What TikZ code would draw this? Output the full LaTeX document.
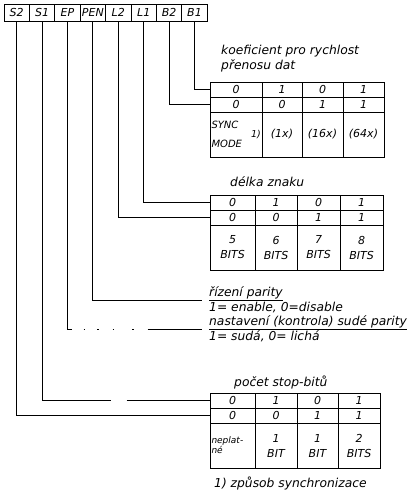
\documentclass[tikz,border=0pt]{standalone}
\usepackage{fontspec}
\setmainfont{DejaVu Sans}
\usetikzlibrary{positioning}

\begin{document}
\begin{tikzpicture}[
    x=1pt, y=-1pt,
    every node/.style={font=\itshape\fontsize{11}{12}\selectfont},
    regbox/.style={draw,line width=1pt,outer sep=0pt,inner sep=0pt,minimum width=25.4pt,minimum height=17pt},
    cell/.style={draw,line width=1pt,outer sep=0pt,inner sep=0pt,minimum height=15pt,anchor=north west},
    bigcell/.style={cell,minimum height=45pt,align=center},
    wire/.style={line width=1pt},
    note/.style={anchor=base west,inner sep=0pt,font=\itshape\fontsize{12.3}{15}\selectfont},
  ]
  \useasboundingbox (0,0) rectangle (411,496);

  % control register
  \node[regbox, anchor=north west] (s2) at (4,4) {S2};
  \node[regbox, right=0pt of s2] (s1) {S1};
  \node[regbox, right=0pt of s1] (ep) {EP};
  \node[regbox, right=0pt of ep] (pen) {PEN};
  \node[regbox, right=0pt of pen] (l2) {L2};
  \node[regbox, right=0pt of l2] (l1) {L1};
  \node[regbox, right=0pt of l1] (b2) {B2};
  \node[regbox, right=0pt of b2] (b1) {B1};

  % baud rate factor
  \node[note, anchor=north west, align=left] (koef) at (221,45) {koeficient pro rychlost\\přenosu dat};
  \foreach \x/\w/\a/\b [count=\i] in {210/52/0/0, 262/40/1/0, 302/41/0/1, 343/41/1/1} {
    \node[cell, minimum width=\w pt] (ka\i) at (\x,82) {\a};
    \node[cell, minimum width=\w pt] (kb\i) at (\x,97) {\b};
  }
  \node[bigcell, minimum width=52pt, text width=49pt, inner xsep=1.5pt, align=left,
    font=\itshape\fontsize{10}{11}\selectfont,
    label={[anchor=east, inner sep=1pt, font=\itshape\fontsize{9.5}{10}\selectfont]east:1)}] (kc1) at (210,112) {SYNC\\[8pt]MODE};
  \node[bigcell, minimum width=40pt] (kc2) at (262,112) {(1x)};
  \node[bigcell, minimum width=41pt] (kc3) at (302,112) {(16x)};
  \node[bigcell, minimum width=41pt] (kc4) at (343,112) {(64x)};

  % character length
  \node[note] (len) at (230,186) {délka znaku};
  \foreach \x/\w/\a/\b/\c [count=\i] in {210/45/0/0/5, 255/42/1/0/6, 297/43/0/1/7, 340/43/1/1/8} {
    \node[cell, minimum width=\w pt] (da\i) at (\x,195) {\a};
    \node[cell, minimum width=\w pt] (db\i) at (\x,210) {\b};
    \node[bigcell, minimum width=\w pt] (dc\i) at (\x,225) {\c\\[3pt]BITS};
  }

  % parity
  \node[note, inner xsep=7pt] (parity) at (202,296) {\underline{řízení parity}};
  \node[note] (parityval) at (209,311) {1= enable, 0=disable};
  \node[note, inner xsep=7pt] (even) at (202,325) {\underline{nastavení (kontrola) sudé parity}};
  \node[note] (evenval) at (209,340) {1= sudá, 0= lichá};

  % stop bits
  \node[note] (stop) at (234,386) {počet stop-bitů};
  \foreach \x/\w/\a/\b [count=\i] in {210/45/0/0, 255/42/1/0, 297/41/0/1, 338/42/1/1} {
    \node[cell, minimum width=\w pt] (sa\i) at (\x,393) {\a};
    \node[cell, minimum width=\w pt] (sb\i) at (\x,408) {\b};
  }
  \node[bigcell, minimum width=45pt, text width=42pt, inner xsep=1.5pt, align=left,
    font=\itshape\fontsize{9}{10}\selectfont] (sc1) at (210,423) {neplat-\\né};
  \node[bigcell, minimum width=42pt] (sc2) at (255,423) {1\\[3pt]BIT};
  \node[bigcell, minimum width=41pt] (sc3) at (297,423) {1\\[3pt]BIT};
  \node[bigcell, minimum width=42pt] (sc4) at (338,423) {2\\[3pt]BITS};

  \node[note] (foot) at (214,487) {1) způsob synchronizace};

  % connections
  \draw[wire] (b1.south) |- (ka1.west);
  \draw[wire] (b2.south) |- (kb1.west);
  \draw[wire] (l1.south) |- (da1.west);
  \draw[wire] (l2.south) |- (db1.west);
  \draw[wire] (pen.south) |- (parity.south west);
  \coordinate (epbend) at (ep.south |- even.south west);
  \draw[wire] (ep.south) -- (epbend);
  \draw[wire, dash pattern=on 4pt off 12pt on 1.5pt off 12pt on 1.5pt off 14pt on 1.5pt off 18pt on 1.5pt off 14pt on 90pt] (epbend) -- (even.south west);
  \draw[wire, dash pattern=on 448pt off 16pt on 200pt] (s1.south) |- (sa1.west);
  \draw[wire] (s2.south) |- (sb1.west);
\end{tikzpicture}
\end{document}
